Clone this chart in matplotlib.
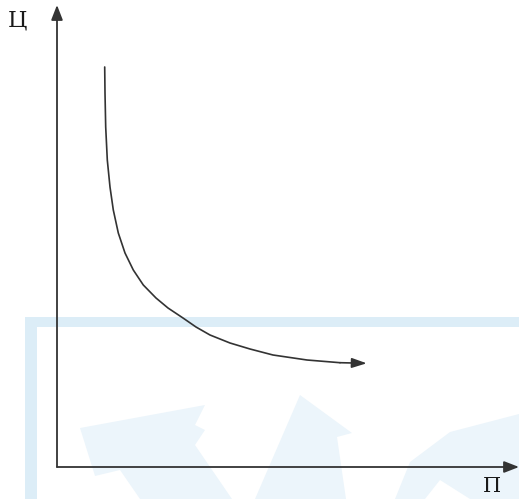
import numpy as np
import matplotlib.pyplot as plt
from matplotlib.patches import Polygon, Rectangle

# demand curve (П = quantity, Ц = price)
q_vals = [47.7, 48, 48.7, 50.3, 53, 56.3, 61.3, 68, 76.3, 86.3, 99, 111, 126, 139, 153,
          173, 193, 216, 250, 283, 309.7]
p_vals = [400, 374, 340, 307, 280, 257, 234, 214, 197, 182, 169, 159, 149, 140, 132,
          124, 118, 112, 107, 104.3, 103.7]
x_label = "П"
y_label = "Ц"

W, H = 519, 499
ox, oy = 57, 467  # origin in pixels


def px(x, y):
    # pixel position -> data position
    return (x - ox, oy - y)


fig = plt.figure(figsize=(W / 100, H / 100), dpi=100)
ax = fig.add_axes([0, 0, 1, 1])
ax.set_xlim(-ox, W - ox)
ax.set_ylim(oy - H, oy)
ax.axis("off")

# faint watermark in the background
wm = "#dcedf7"
x0, y0 = px(25, 327)
ax.add_patch(Rectangle((x0, y0), W, 10, color=wm, lw=0, zorder=0))
x1, y1 = px(25, 499)
ax.add_patch(Rectangle((x1, y1), 12, 172, color=wm, lw=0, zorder=0))
shapes = [
    [(80, 428), (205, 405), (195, 425), (205, 430), (195, 445), (232, 499), (140, 499), (120, 470), (95, 476)],
    [(300, 395), (352, 433), (337, 437), (346, 499), (255, 499)],
    [(395, 499), (410, 462), (450, 432), (519, 414), (519, 499), (470, 499), (440, 480), (425, 499)],
]
for s in shapes:
    ax.add_patch(Polygon([px(a, b) for a, b in s], closed=True, color="#ecf5fb", lw=0, zorder=0))

line_c = "#333333"
arrow = dict(arrowstyle="-|>,head_length=0.9,head_width=0.35", color=line_c, lw=1.3,
             shrinkA=0, shrinkB=0)

# axes with arrow heads
ax.annotate("", xy=(0, 462), xytext=(0, 0), arrowprops=arrow)
ax.annotate("", xy=(W - ox, 0), xytext=(0, 0), arrowprops=arrow)

# curve
ax.plot(q_vals[:-1], p_vals[:-1], color=line_c, lw=1.2, solid_capstyle="round",
        solid_joinstyle="round")
ax.annotate("", xy=(q_vals[-1], p_vals[-1]), xytext=(q_vals[-2], p_vals[-2]),
            arrowprops=dict(arrowstyle="-|>,head_length=0.9,head_width=0.3", color=line_c,
                            lw=1.2, shrinkA=0, shrinkB=0))

ax.text(*px(17, 20), y_label, fontsize=16, family="DejaVu Serif", ha="center", va="center",
        color="#1a1a1a")
ax.text(*px(492, 486), x_label, fontsize=15, family="DejaVu Serif", ha="center", va="center",
        color="#1a1a1a")

fig.savefig("out.png", dpi=100)
